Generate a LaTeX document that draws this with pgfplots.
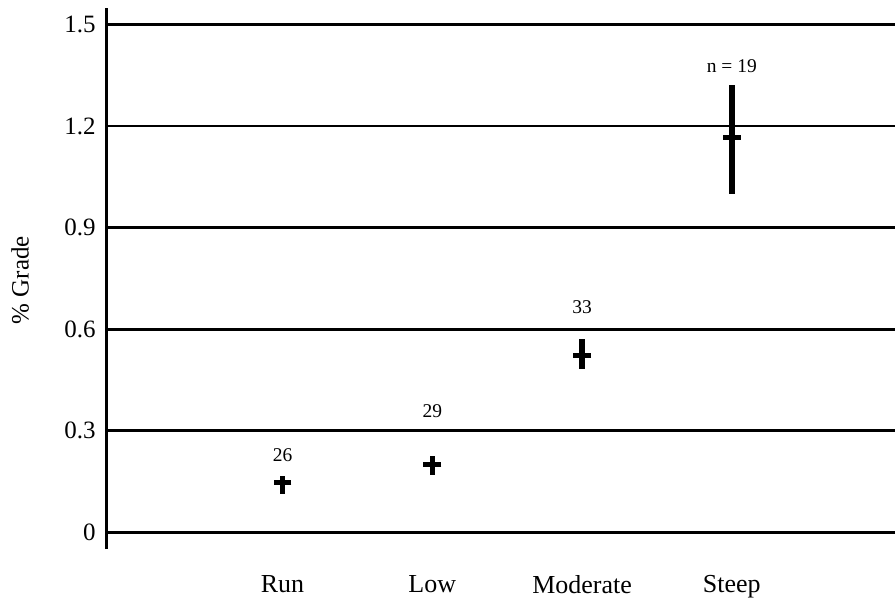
\documentclass[border=0pt]{standalone}
\usepackage{fontspec}
\setmainfont{Liberation Serif}
\usepackage{pgfplots}
\usepackage{pgfplotstable}
\pgfplotsset{compat=1.18}
\pgfplotstableread[col sep=comma]{
x,y,ep,em
1,0.146,0.019,0.034
2,0.200,0.024,0.030
3,0.521,0.049,0.040
4,1.167,0.155,0.167
}\means
\pgfplotstableread[col sep=comma]{
x,y,label
1,0.227,26
2,0.357,29
3,0.664,33
4,1.378,n = 19
}\labels
\begin{document}
\begin{tikzpicture}
\begin{axis}[
  scale only axis, width=789pt, height=542pt,
  xmin=-0.173, xmax=5.087, ymin=-0.05, ymax=1.549,
  axis lines*=left,
  x axis line style={draw=none},
  y axis line style={line width=2.8pt},
  ytick={0,0.3,0.6,0.9,1.2,1.5},
  yticklabels={0,0.3,0.6,0.9,1.2,1.5},
  xtick={1,2,3,4}, xticklabels={Run,Low,Moderate,Steep},
  major tick length=0pt,
  ymajorgrids, grid style={black, line width=2.8pt},
  yticklabel style={font=\fontsize{25}{29}\selectfont, inner sep=4pt, xshift=-7pt},
  xticklabel style={font=\fontsize{26}{30}\selectfont, yshift=-23pt},
  ylabel={\% Grade},
  ylabel style={font=\fontsize{25}{29}\selectfont, at={(axis description cs:-0.110,0.497)}, anchor=center},
  clip=false,
]
\addplot[only marks, mark=-, mark size=9pt, mark options={line width=5pt, black},
  error bars/.cd, y dir=both, y explicit, error mark=none,
  error bar style={line width=5.5pt, black}]
  table[x=x, y=y, y error plus=ep, y error minus=em] {\means};
\addplot[only marks, mark=none,
  nodes near coords, point meta=explicit symbolic,
  nodes near coords style={anchor=center, font=\fontsize{19.5}{23}\selectfont}]
  table[x=x, y=y, meta=label] {\labels};
\end{axis}
\path ([shift={(-107pt,-48pt)}]current axis.south west) rectangle ([shift={(0pt,8pt)}]current axis.north east);
\end{tikzpicture}
\end{document}
